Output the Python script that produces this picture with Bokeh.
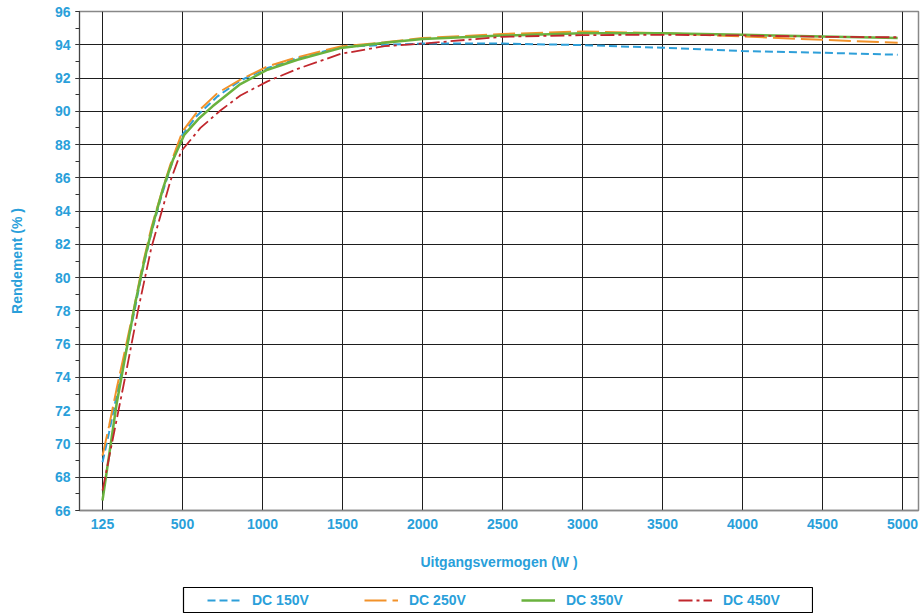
import numpy as np
from bokeh.plotting import figure
from bokeh.layouts import column, row
from bokeh.models import FixedTicker, SingleIntervalTicker, Range1d, Legend, LegendItem, Spacer
from bokeh.embed import file_html
from bokeh.resources import INLINE

# ---- data ----
tick_power = [125, 500, 1000, 1500, 2000, 2500, 3000, 3500, 4000, 4500, 5000]
tick_labels = ["125", "500", "1000", "1500", "2000", "2500", "3000", "3500", "4000", "4500", "5000"]

p150 = [125, 156, 191, 235, 275, 310, 354, 399, 443, 500, 587, 719, 862, 1031, 1219, 1488, 1763, 2000, 2500, 3000, 3500, 4000, 4500, 4970]
e150 = [68.9, 70.7, 72.9, 75.6, 78.0, 80.3, 82.7, 84.8, 86.6, 88.6, 89.7, 90.9, 91.85, 92.6, 93.2, 93.85, 94.0, 94.07, 94.07, 93.98, 93.82, 93.62, 93.52, 93.4]

p250 = [125, 156, 191, 235, 275, 310, 354, 399, 443, 500, 587, 719, 862, 1031, 1219, 1488, 1763, 2000, 2500, 3000, 3500, 4000, 4500, 4970]
e250 = [69.3, 71.1, 73.3, 75.9, 78.3, 80.6, 83.0, 85.0, 86.8, 88.8, 89.9, 91.1, 91.9, 92.7, 93.25, 93.9, 94.15, 94.4, 94.65, 94.8, 94.7, 94.5, 94.3, 94.12]

p350 = [125, 191, 235, 279, 324, 368, 412, 456, 512, 606, 688, 856, 1031, 1219, 1488, 1763, 2000, 2500, 3000, 3500, 4000, 4500, 4970]
e350 = [66.6, 72.4, 75.5, 78.5, 81.2, 83.5, 85.5, 87.1, 88.6, 89.6, 90.3, 91.6, 92.5, 93.1, 93.8, 94.12, 94.35, 94.55, 94.69, 94.69, 94.6, 94.5, 94.4]

p450 = [125, 234, 291, 354, 443, 494, 612, 737, 862, 1031, 1219, 1488, 1763, 2000, 2500, 3000, 3500, 4000, 4500, 4970]
e450 = [67.2, 74.2, 78.0, 81.8, 85.8, 87.6, 89.0, 90.05, 90.95, 91.8, 92.55, 93.45, 93.92, 94.07, 94.48, 94.58, 94.6, 94.56, 94.48, 94.45]

series_names = ["DC 150V", "DC 250V", "DC 350V", "DC 450V"]
series_colors = ["#2E9FD9", "#F2922A", "#6AB23E", "#C1272D"]
series_dash = ["8 4", "22 6", "solid", "14 4 3 4"]
series_width = [2, 2, 2.5, 1.8]

# category-style axis: each labelled power sits at an equally spaced slot
slots = np.arange(len(tick_power))


def pos(pw):
    return np.interp(pw, tick_power, slots)


TXT = "#2A9FDA"
FONT = "Liberation Sans"

p = figure(width=920, height=575, output_backend="svg", toolbar_location=None,
           x_range=Range1d(-0.2875, 10.2), y_range=Range1d(66, 96),
           min_border_left=79, min_border_right=2, min_border_top=11, min_border_bottom=65,
           background_fill_color="white", border_fill_color="white")

p.outline_line_color = "#888888"
p.outline_line_width = 1.5

# y axis
p.yaxis.ticker = SingleIntervalTicker(interval=2, num_minor_ticks=2)
p.yaxis.major_tick_out = 4
p.yaxis.major_tick_in = 0
p.yaxis.minor_tick_out = 4
p.yaxis.minor_tick_in = 0
p.yaxis.major_tick_line_color = "#333333"
p.yaxis.minor_tick_line_color = "#333333"
p.yaxis.axis_line_color = "#444444"
p.yaxis.major_label_standoff = 5
p.yaxis.axis_label = "Rendement (% )"
p.yaxis.axis_label_standoff = 27

# x axis
p.xaxis.ticker = FixedTicker(ticks=list(slots))
p.xaxis.major_label_overrides = {int(i): lab for i, lab in zip(slots, tick_labels)}
p.xaxis.major_tick_out = 0
p.xaxis.major_tick_in = 0
p.xaxis.minor_tick_line_color = None
p.xaxis.axis_line_color = "#888888"
p.xaxis.axis_line_width = 1.5
p.xaxis.major_label_standoff = 8
p.xaxis.axis_label = "Uitgangsvermogen (W )"
p.xaxis.axis_label_standoff = 22

for ax in (p.xaxis, p.yaxis):
    ax.major_label_text_font = FONT
    ax.major_label_text_font_style = "bold"
    ax.major_label_text_font_size = "14px"
    ax.major_label_text_color = TXT
    ax.axis_label_text_font = FONT
    ax.axis_label_text_font_style = "bold"
    ax.axis_label_text_font_size = "14px"
    ax.axis_label_text_color = TXT

# grid
p.xgrid.ticker = FixedTicker(ticks=list(slots))
p.ygrid.ticker = SingleIntervalTicker(interval=2)
for g in (p.xgrid, p.ygrid):
    g.grid_line_color = "#1e1e1e"
    g.grid_line_width = 1
    g.grid_line_alpha = 1.0

# series lines
all_p = [p150, p250, p350, p450]
all_e = [e150, e250, e350, e450]
for pw, ef, c, d, w in zip(all_p, all_e, series_colors, series_dash, series_width):
    p.line(pos(pw), ef, line_color=c, line_width=w, line_dash=d)

# ---- legend strip below the chart (its frame outline is the legend box) ----
leg = figure(width=631, height=27, output_backend="svg", toolbar_location=None,
             x_range=Range1d(0, 1), y_range=Range1d(0, 1),
             min_border_left=1, min_border_right=1, min_border_top=1, min_border_bottom=1,
             background_fill_color="white", border_fill_color="white")
leg.axis.visible = False
leg.grid.visible = False
leg.outline_line_color = "black"
leg.outline_line_width = 1.2

samples = []
for c, d, w in zip(series_colors, series_dash, series_width):
    # legend-only sample renderers (a single point off the strip draws nothing)
    samples.append(leg.line(x=[-1], y=[-1], line_color=c, line_width=w, line_dash=d))

legend = Legend(
    items=[LegendItem(label=n, renderers=[r]) for n, r in zip(series_names, samples)],
    orientation="horizontal", location="center_left",
    padding=4, spacing=30, glyph_width=34, glyph_height=16, label_standoff=11,
    label_width=82, label_height=16, margin=24,
    border_line_color=None, background_fill_alpha=0,
    label_text_font=FONT, label_text_font_style="bold", label_text_font_size="14px",
    label_text_color=TXT,
)
leg.add_layout(legend, "center")

layout = column(p, Spacer(height=11), row(Spacer(width=182), leg, spacing=0), spacing=0)
open("out.html", "w").write(file_html(layout, INLINE))
